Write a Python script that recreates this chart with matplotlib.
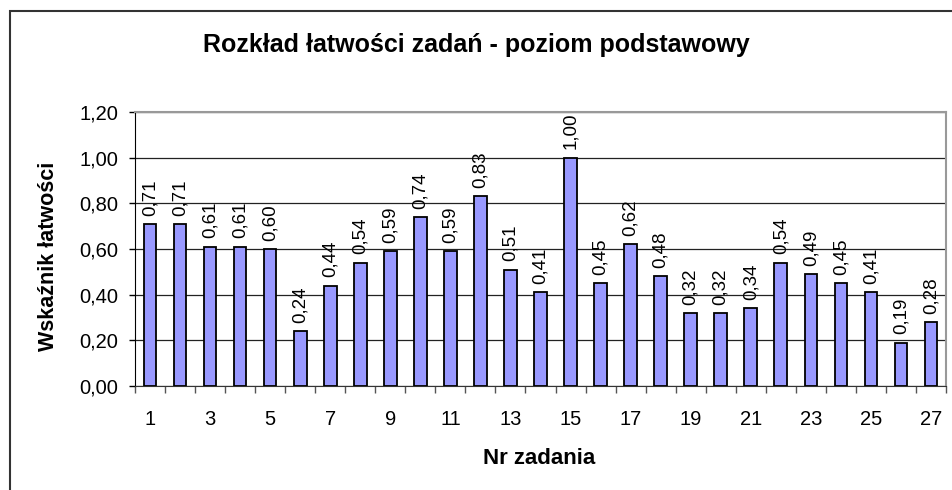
import matplotlib
matplotlib.use("Agg")
import matplotlib.pyplot as plt
from matplotlib.patches import Rectangle
import numpy as np

plt.rcParams['font.family'] = ['Liberation Sans', 'DejaVu Sans']

task_numbers = list(range(1, 28))
values = [0.71, 0.71, 0.61, 0.61, 0.60, 0.24, 0.44, 0.54, 0.59, 0.74, 0.59, 0.83,
          0.51, 0.41, 1.00, 0.45, 0.62, 0.48, 0.32, 0.32, 0.34, 0.54, 0.49, 0.45,
          0.41, 0.19, 0.28]
y_ticks = [0.0, 0.2, 0.4, 0.6, 0.8, 1.0, 1.2]

title = "Rozkład łatwości zadań - poziom podstawowy"
xlabel = "Nr zadania"
ylabel = "Wskaźnik łatwości"

fmt = lambda v: f"{v:.2f}".replace(".", ",")

fig = plt.figure(figsize=(9.52, 4.90), dpi=100)
W, H = 952, 490
ax = fig.add_axes([135 / W, 1 - 386 / H, (946 - 135) / W, (386 - 112) / H])

x = np.arange(len(values))
bars = ax.bar(x, values, width=0.42, color='#9999FF', edgecolor='black', linewidth=1.3, zorder=3)

for xi, v in zip(x, values):
    ax.annotate(fmt(v), (xi, v), xytext=(0, 6), textcoords='offset points',
                rotation=90, ha='center', va='bottom', fontsize=13.5, zorder=4)

ax.set_xlim(-0.5, len(values) - 0.5)
ax.set_ylim(0, 1.2)
ax.set_yticks(y_ticks)
ax.set_yticklabels([fmt(t) for t in y_ticks], fontsize=14.5)
ax.yaxis.grid(True, color='#222222', linewidth=0.9, zorder=0)
ax.set_axisbelow(True)

major_pos = [i for i in x if i % 2 == 0]
ax.set_xticks(major_pos)
ax.set_xticklabels([str(task_numbers[i]) for i in major_pos], fontsize=14.5)
ax.tick_params(axis='x', which='major', length=0, pad=17)
ax.set_xticks(np.arange(-0.5, len(values), 1.0), minor=True)
ax.tick_params(axis='x', which='minor', length=5, width=1, color='#555555', direction='out')
ax.tick_params(axis='y', length=4, width=1, direction='out', pad=8)

for side in ['top', 'right']:
    ax.spines[side].set_color('#999999')
    ax.spines[side].set_linewidth(1.5)
ax.spines['left'].set_color('black')
ax.spines['bottom'].set_color('#333333')

fig.text(49 / W, 1 - 256 / H, ylabel, rotation=90, ha='center', va='center',
         fontsize=15.5, fontweight='bold')
fig.text(539 / W, 1 - 458 / H, xlabel, ha='center', va='center',
         fontsize=16, fontweight='bold')

fig.text(476 / W, 1 - 45 / H, title, ha='center', va='center', fontsize=18, fontweight='bold')

border = Rectangle((10 / W, -0.2), 2.0, 1 - 11 / H + 0.2, transform=fig.transFigure,
                   fill=False, edgecolor='#333333', linewidth=1.5)
fig.patches.append(border)

fig.savefig("out.png", dpi=100)
